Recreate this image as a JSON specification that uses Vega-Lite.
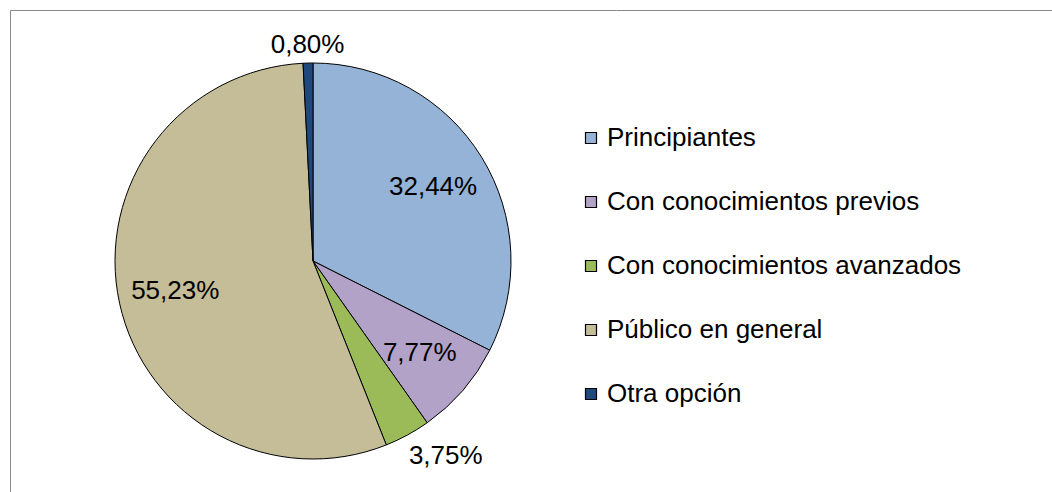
{
  "$schema": "https://vega.github.io/schema/vega-lite/v6.json",
  "padding": {"left": 9, "top": 9, "right": 0, "bottom": 0},
  "background": "white",
  "spacing": 0,
  "bounds": "flush",
  "config": {
    "locale": {"number": {"decimal": ",", "thousands": ".", "grouping": [3], "currency": ["", " €"]}},
    "font": "Liberation Sans",
    "legend": {
      "orient": "none",
      "legendX": 568,
      "legendY": 115,
      "padding": 0,
      "symbolType": "square",
      "symbolSize": 121,
      "symbolStrokeColor": "black",
      "symbolStrokeWidth": 1.2,
      "symbolOpacity": 1,
      "labelFont": "Liberation Sans",
      "labelFontSize": 26,
      "labelColor": "black",
      "labelOffset": 3,
      "labelLimit": 600,
      "rowPadding": 38
    }
  },
  "data": {
    "values": [
      {"cat": "Principiantes", "pct": 0.3244, "orden": 1},
      {"cat": "Con conocimientos previos", "pct": 0.0777, "orden": 2},
      {"cat": "Con conocimientos avanzados", "pct": 0.0375, "orden": 3},
      {"cat": "Público en general", "pct": 0.5523, "orden": 4},
      {"cat": "Otra opción", "pct": 0.008, "orden": 5}
    ]
  },
  "hconcat": [
    {
      "width": 606,
      "height": 502,
      "view": {"stroke": "#898989", "strokeWidth": 1, "strokeDash": [606, 1108, 502]},
      "encoding": {
        "theta": {"field": "pct", "type": "quantitative", "stack": true},
        "order": {"field": "orden", "type": "quantitative"},
        "color": {
          "field": "cat",
          "type": "nominal",
          "title": null,
          "scale": {
            "domain": ["Principiantes", "Con conocimientos previos", "Con conocimientos avanzados", "Público en general", "Otra opción"],
            "range": ["#95B3D7", "#B3A2C7", "#9BBB59", "#C4BD97", "#1F497D"]
          }
        }
      },
      "layer": [
        {"mark": {"type": "arc", "outerRadius": 198, "stroke": "black", "strokeWidth": 1}},
        {
          "mark": {"type": "text", "radius": 141, "fontSize": 26, "font": "Liberation Sans"},
          "encoding": {
            "color": {"value": "black"},
            "detail": {"field": "cat"},
            "text": {"condition": {"test": "datum.orden == 1 || datum.orden == 2 || datum.orden == 4", "field": "pct", "type": "quantitative", "format": ".2%"}, "value": ""}
          }
        },
        {
          "mark": {"type": "text", "radius": 220, "align": "left", "dx": -9, "dy": 2, "fontSize": 26, "font": "Liberation Sans"},
          "encoding": {
            "color": {"value": "black"},
            "detail": {"field": "cat"},
            "text": {"condition": {"test": "datum.orden == 3", "field": "pct", "type": "quantitative", "format": ".2%"}, "value": ""}
          }
        },
        {
          "mark": {"type": "text", "radius": 216, "fontSize": 26, "font": "Liberation Sans"},
          "encoding": {
            "color": {"value": "black"},
            "detail": {"field": "cat"},
            "text": {"condition": {"test": "datum.orden == 5", "field": "pct", "type": "quantitative", "format": ".2%"}, "value": ""}
          }
        }
      ]
    },
    {
      "width": 460,
      "height": 502,
      "view": {"stroke": "#898989", "strokeWidth": 1, "strokeDash": [460, 3000]},
      "mark": {"type": "point", "opacity": 0},
      "encoding": {}
    }
  ]
}
